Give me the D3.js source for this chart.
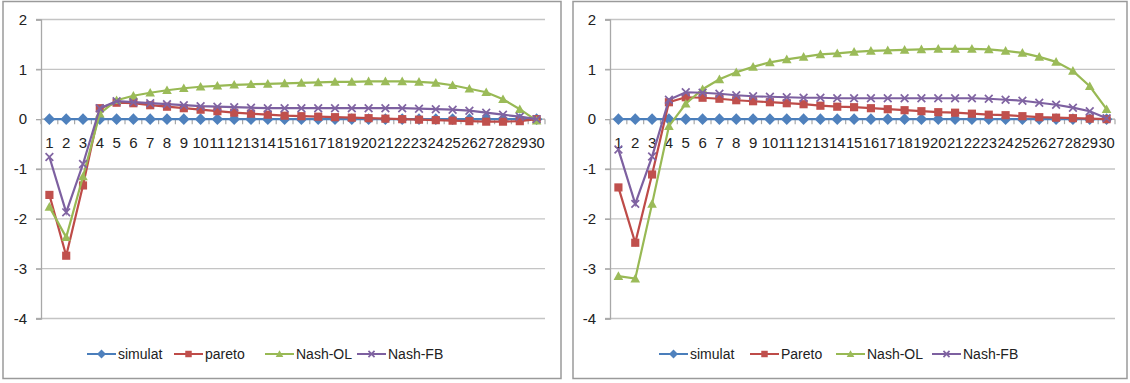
<!DOCTYPE html>
<html>
<head>
<meta charset="utf-8">
<script src="https://cdn.jsdelivr.net/npm/d3@7"></script>
<style>
  body { margin: 0; background: #fff; }
  svg { display: block; }
  text { font-family: "Liberation Sans", Arial, sans-serif; fill: #222; }
</style>
</head>
<body>
<svg id="chart" width="1130" height="383"></svg>
<script>
// categories 1..30
var categories = ['1','2','3','4','5','6','7','8','9','10','11','12','13','14','15',
    '16','17','18','19','20','21','22','23','24','25','26','27','28','29','30'];
var yTicks = [2, 1, 0, -1, -2, -3, -4];

// left chart
var simulatL = [0,0,0,0,0,0,0,0,0,0,0,0,0,0,0,0,0,0,0,0,0,0,0,0,0,0,0,0,0,0];
var paretoL = [-1.52,-2.74,-1.33,0.22,0.33,0.32,0.28,0.25,0.22,0.19,0.16,0.13,0.11,0.09,0.07,
    0.06,0.05,0.04,0.03,0.02,0.01,0.0,-0.01,-0.02,-0.03,-0.04,-0.05,-0.05,-0.04,0.0];
var nashOLL = [-1.76,-2.37,-1.15,0.11,0.38,0.47,0.53,0.58,0.62,0.65,0.67,0.69,0.70,0.71,0.72,
    0.73,0.74,0.75,0.75,0.76,0.76,0.76,0.75,0.73,0.68,0.61,0.54,0.40,0.20,-0.03];
var nashFBL = [-0.76,-1.87,-0.90,0.22,0.36,0.34,0.32,0.30,0.28,0.26,0.25,0.24,0.23,0.22,0.22,
    0.22,0.22,0.22,0.22,0.22,0.22,0.22,0.21,0.20,0.19,0.17,0.13,0.09,0.05,0.0];

// right chart
var simulatR = [0,0,0,0,0,0,0,0,0,0,0,0,0,0,0,0,0,0,0,0,0,0,0,0,0,0,0,0,0,0];
var paretoR = [-1.37,-2.48,-1.11,0.34,0.44,0.43,0.41,0.38,0.36,0.34,0.32,0.30,0.27,0.25,0.24,
    0.22,0.20,0.18,0.16,0.14,0.13,0.11,0.09,0.08,0.06,0.04,0.03,0.02,0.01,0.0];
var nashOLR = [-3.15,-3.2,-1.70,-0.14,0.31,0.60,0.80,0.94,1.05,1.14,1.20,1.25,1.30,1.32,1.35,
    1.37,1.38,1.39,1.40,1.41,1.41,1.41,1.40,1.37,1.33,1.25,1.15,0.97,0.66,0.20];
var nashFBR = [-0.61,-1.70,-0.75,0.39,0.54,0.53,0.51,0.48,0.46,0.45,0.44,0.43,0.43,0.42,0.42,
    0.42,0.42,0.42,0.42,0.42,0.42,0.42,0.41,0.39,0.37,0.33,0.29,0.23,0.16,0.02];

var legendL = ['simulat', 'pareto', 'Nash-OL', 'Nash-FB'];
var legendR = ['simulat', 'Pareto', 'Nash-OL', 'Nash-FB'];

var colors = ['#4a7ebb', '#be4b48', '#98b954', '#7d60a0'],
    fills = ['#4f81bd', '#c0504d', '#9bbb59', '#8064a2'],
    symbols = ['diamond', 'square', 'triangle', 'cross'];

var svg = d3.select('#chart');
svg.append('rect').attr('width', 1130).attr('height', 383).attr('fill', '#fff');

function marker(g, type, x, y, s, i) {
    if (type === 'diamond') {
        g.append('path')
            .attr('d', 'M' + x + ',' + (y - s) + 'L' + (x + s) + ',' + y + 'L' + x + ',' + (y + s) + 'L' + (x - s) + ',' + y + 'Z')
            .attr('fill', fills[i]);
    } else if (type === 'square') {
        g.append('rect').attr('x', x - s * 0.85).attr('y', y - s * 0.85)
            .attr('width', s * 1.7).attr('height', s * 1.7).attr('fill', fills[i]);
    } else if (type === 'triangle') {
        g.append('path')
            .attr('d', 'M' + x + ',' + (y - s) + 'L' + (x + s) + ',' + (y + s * 0.8) + 'L' + (x - s) + ',' + (y + s * 0.8) + 'Z')
            .attr('fill', fills[i]);
    } else {
        var k = s * 0.8;
        g.append('path')
            .attr('d', 'M' + (x - k) + ',' + (y - k) + 'L' + (x + k) + ',' + (y + k) + 'M' + (x + k) + ',' + (y - k) + 'L' + (x - k) + ',' + (y + k))
            .attr('stroke', fills[i]).attr('stroke-width', 1.7).attr('fill', 'none');
    }
}

function drawChart(opts) {
    var g = svg.append('g');

    // frame
    g.append('rect')
        .attr('x', opts.fx).attr('y', 1.5)
        .attr('width', opts.fw).attr('height', 377)
        .attr('fill', '#fff').attr('stroke', '#9a9a9a').attr('stroke-width', 1.5);

    var x = d3.scaleBand().domain(categories).range([opts.left, opts.right]).padding(0);
    var y = d3.scaleLinear().domain([-4, 2]).range([318.5, 19.5]);

    // gridlines
    g.selectAll('line.grid')
        .data(yTicks.filter(function (d) { return d !== 0; }))
        .enter().append('line')
        .attr('x1', opts.left - 5).attr('x2', opts.right)
        .attr('y1', function (d) { return y(d); })
        .attr('y2', function (d) { return y(d); })
        .attr('stroke', '#c4c4c4').attr('stroke-width', 1.3);

    // y axis
    var yAxis = g.append('g')
        .attr('transform', 'translate(' + opts.left + ',0)')
        .call(d3.axisLeft(y).tickValues(yTicks).tickSize(5).tickPadding(9)
            .tickFormat(function (d) { return String(d); }));
    yAxis.select('.domain').attr('stroke', '#a8a8a8').attr('stroke-width', 1.3);
    yAxis.selectAll('.tick line').attr('stroke', '#a8a8a8').attr('stroke-width', 1.3);
    yAxis.selectAll('.tick text').attr('font-size', 15)
        .style('font-family', '"Liberation Sans", Arial, sans-serif').attr('fill', '#222');

    // category axis at zero
    g.append('line')
        .attr('x1', opts.left).attr('x2', opts.right)
        .attr('y1', y(0)).attr('y2', y(0))
        .attr('stroke', '#a8a8a8').attr('stroke-width', 1.3);
    g.selectAll('line.ctick')
        .data(categories.concat(['end']))
        .enter().append('line')
        .attr('x1', function (d) { return d === 'end' ? opts.right : x(d); })
        .attr('x2', function (d) { return d === 'end' ? opts.right : x(d); })
        .attr('y1', y(0)).attr('y2', y(0) + 5)
        .attr('stroke', '#a8a8a8').attr('stroke-width', 1.2);
    g.selectAll('text.clab')
        .data(categories)
        .enter().append('text')
        .attr('x', function (d) { return x(d) + x.bandwidth() / 2; })
        .attr('y', 148)
        .attr('text-anchor', 'middle')
        .attr('font-size', 15)
        .attr('textLength', function (d) { return d.length > 1 ? 16.4 : null; })
        .attr('lengthAdjust', 'spacingAndGlyphs')
        .text(function (d) { return d; });

    // series
    var line = d3.line()
        .x(function (d, i) { return x(categories[i]) + x.bandwidth() / 2; })
        .y(function (d) { return y(d); });

    opts.series.forEach(function (s, i) {
        g.append('path').datum(s)
            .attr('d', line)
            .attr('fill', 'none')
            .attr('stroke', colors[i])
            .attr('stroke-width', 2.2);
        s.forEach(function (v, j) {
            marker(g, symbols[i], x(categories[j]) + x.bandwidth() / 2, y(v), symbols[i] === 'diamond' ? 5.8 : 4.8, i);
        });
    });

    // legend
    var lg = g.append('g');
    opts.legend.forEach(function (name, i) {
        var lx = opts.legendX[i];
        lg.append('line')
            .attr('x1', lx).attr('x2', lx + 29)
            .attr('y1', 354).attr('y2', 354)
            .attr('stroke', colors[i]).attr('stroke-width', 2);
        marker(lg, symbols[i], lx + 14.5, 354, symbols[i] === 'diamond' ? 4.5 : 3.8, i);
        lg.append('text')
            .attr('x', lx + 31).attr('y', 359)
            .attr('font-size', 14)
            .text(name);
    });
}

drawChart({
    fx: 3, fw: 558, left: 41, right: 545,
    series: [simulatL, paretoL, nashOLL, nashFBL],
    legend: legendL,
    legendX: [87, 174, 265, 357]
});

drawChart({
    fx: 573, fw: 554, left: 610, right: 1115,
    series: [simulatR, paretoR, nashOLR, nashFBR],
    legend: legendR,
    legendX: [659, 750, 836, 932]
});
</script>
</body>
</html>
